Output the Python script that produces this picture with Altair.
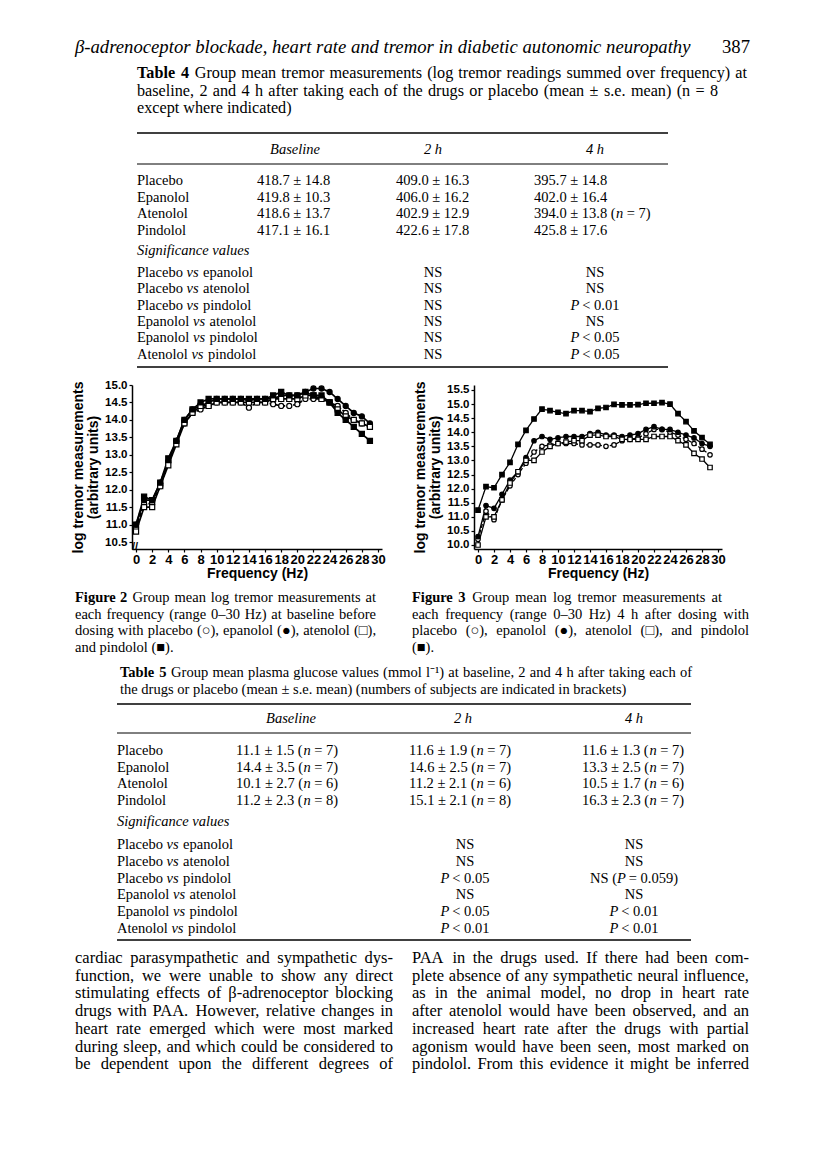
import altair as alt
import pandas as pd

# ---------------- chart data ----------------
freq = list(range(30))
drugs = ["Placebo", "Epanolol", "Atenolol", "Pindolol"]

fig2_placebo = [10.9, 11.6, 11.6, 12.1, 12.8, 13.4, 13.9, 14.2, 14.3, 14.4, 14.5, 14.5, 14.5, 14.5, 14.35,
                14.5, 14.5, 14.45, 14.4, 14.4, 14.45, 14.6, 14.6, 14.6, 14.5, 14.4, 14.2, 14.0, 13.9, 13.8]
fig2_epanolol = [11.0, 11.7, 11.7, 12.2, 12.8, 13.4, 14.0, 14.3, 14.4, 14.5, 14.6, 14.6, 14.6, 14.6, 14.55,
                 14.6, 14.6, 14.6, 14.7, 14.7, 14.7, 14.8, 14.9, 14.9, 14.8, 14.6, 14.4, 14.2, 14.1, 13.9]
fig2_atenolol = [10.8, 11.5, 11.5, 12.1, 12.7, 13.3, 13.9, 14.2, 14.4, 14.4, 14.5, 14.5, 14.5, 14.5, 14.5,
                 14.5, 14.5, 14.6, 14.6, 14.6, 14.6, 14.7, 14.7, 14.6, 14.5, 14.3, 14.1, 14.0, 13.9, 13.8]
fig2_pindolol = [11.0, 11.8, 11.7, 12.2, 12.9, 13.4, 14.0, 14.3, 14.5, 14.6, 14.6, 14.6, 14.6, 14.6, 14.6,
                 14.6, 14.6, 14.7, 14.8, 14.7, 14.7, 14.8, 14.7, 14.7, 14.5, 14.2, 14.0, 13.8, 13.6, 13.4]

fig3_placebo = [10.2, 11.2, 10.9, 11.6, 12.1, 12.5, 12.9, 13.3, 13.5, 13.55, 13.6, 13.6, 13.6, 13.55, 13.55,
                13.55, 13.5, 13.55, 13.7, 13.75, 13.8, 13.95, 14.1, 14.1, 14.0, 13.9, 13.75, 13.6, 13.4, 13.2]
fig3_epanolol = [10.3, 11.4, 11.3, 11.8, 12.3, 12.6, 13.1, 13.7, 13.85, 13.75, 13.8, 13.85, 13.85, 13.85, 13.95,
                 14.0, 13.9, 13.9, 13.85, 13.9, 13.95, 14.1, 14.2, 14.1, 14.1, 14.0, 13.9, 13.8, 13.6, 13.5]
fig3_atenolol = [10.0, 11.0, 11.0, 11.6, 12.2, 12.6, 13.0, 13.0, 13.3, 13.5, 13.6, 13.65, 13.7, 13.7, 13.9,
                 13.9, 13.85, 13.85, 13.75, 13.75, 13.75, 13.75, 13.85, 13.85, 13.85, 13.7, 13.55, 13.25, 13.05, 12.75]
fig3_pindolol = [11.24, 12.07, 12.03, 12.5, 12.93, 13.57, 14.07, 14.47, 14.82, 14.77, 14.71, 14.66, 14.77, 14.77, 14.73,
                 14.85, 14.88, 14.99, 14.97, 14.97, 14.98, 15.03, 15.03, 15.05, 15.0, 14.66, 14.38, 14.05, 13.81, 13.57]

fig2_ticks_y = [10.5, 11.0, 11.5, 12.0, 12.5, 13.0, 13.5, 14.0, 14.5, 15.0]
fig3_ticks_y = [10.0, 10.5, 11.0, 11.5, 12.0, 12.5, 13.0, 13.5, 14.0, 14.5, 15.0, 15.5]
ticks_x = list(range(0, 31, 2))
y_title = ["log tremor measurements", "(arbitrary units)"]
x_title = "Frequency (Hz)"

# ---------------- table texts ----------------
t4_rows = ["Placebo", "Epanolol", "Atenolol", "Pindolol"]
t4_base = ["418.7 ± 14.8", "419.8 ± 10.3", "418.6 ± 13.7", "417.1 ± 16.1"]
t4_2h = ["409.0 ± 16.3", "406.0 ± 16.2", "402.9 ± 12.9", "422.6 ± 17.8"]
t4_4h = ["395.7 ± 14.8", "402.0 ± 16.4", "394.0 ± 13.8 (n = 7)", "425.8 ± 17.6"]
t4_sig_2h = ["NS", "NS", "NS", "NS", "NS", "NS"]
t4_sig_4h = ["NS", "NS", "P < 0.01", "NS", "P < 0.05", "P < 0.05"]

t5_base = ["11.1 ± 1.5 (n = 7)", "14.4 ± 3.5 (n = 7)", "10.1 ± 2.7 (n = 6)", "11.2 ± 2.3 (n = 8)"]
t5_2h = ["11.6 ± 1.9 (n = 7)", "14.6 ± 2.5 (n = 7)", "11.2 ± 2.1 (n = 6)", "15.1 ± 2.1 (n = 8)"]
t5_4h = ["11.6 ± 1.3 (n = 7)", "13.3 ± 2.5 (n = 7)", "10.5 ± 1.7 (n = 6)", "16.3 ± 2.3 (n = 7)"]
t5_sig_2h = ["NS", "NS", "P < 0.05", "NS", "P < 0.05", "P < 0.01"]
t5_sig_4h = ["NS", "NS", "NS (P = 0.059)", "NS", "P < 0.01", "P < 0.01"]

sig_pairs = [("Placebo", "epanolol"), ("Placebo", "atenolol"), ("Placebo", "pindolol"),
             ("Epanolol", "atenolol"), ("Epanolol", "pindolol"), ("Atenolol", "pindolol")]

header_text = "β-adrenoceptor blockade, heart rate and tremor in diabetic autonomic neuropathy"
page_no = "387"
t4_caption = ["Group mean tremor measurements (log tremor readings summed over frequency) at",
              "baseline, 2 and 4 h after taking each of the drugs or placebo (mean ± s.e. mean) (n = 8",
              "except where indicated)"]
fig2_caption = ["Group mean log tremor measurements at",
                "each frequency (range 0–30 Hz) at baseline before",
                "dosing with placebo (○), epanolol (●), atenolol (□),",
                "and pindolol (■)."]
fig3_caption = ["Group mean log tremor measurements at",
                "each frequency (range 0–30 Hz) 4 h after dosing with",
                "placebo (○), epanolol (●), atenolol (□), and pindolol",
                "(■)."]
t5_caption = ["Group mean plasma glucose values (mmol l⁻¹) at baseline, 2 and 4 h after taking each of",
              "the drugs or placebo (mean ± s.e. mean) (numbers of subjects are indicated in brackets)"]
body_left = ["cardiac parasympathetic and sympathetic dys-",
             "function, we were unable to show any direct",
             "stimulating effects of β-adrenoceptor blocking",
             "drugs with PAA. However, relative changes in",
             "heart rate emerged which were most marked",
             "during sleep, and which could be considered to",
             "be dependent upon the different degrees of"]
body_right = ["PAA in the drugs used. If there had been com-",
              "plete absence of any sympathetic neural influence,",
              "as in the animal model, no drop in heart rate",
              "after atenolol would have been observed, and an",
              "increased heart rate after the drugs with partial",
              "agonism would have been seen, most marked on",
              "pindolol. From this evidence it might be inferred"]

# ---------------- layout helpers ----------------
W, H = 800, 1154
SERIF = "Liberation Serif"
SANS = "Liberation Sans"


def P(v):
    return v - 8


# approximate Times advance widths (1/1000 em), used only to place words
TW = {" ": 250, "!": 333, "(": 333, ")": 333, ",": 250, "-": 333, ".": 250, "/": 278, ":": 278, ";": 278,
      "<": 564, "=": 564, ">": 564, "±": 564, "–": 500, "β": 500, "⁻": 333, "¹": 300,
      "○": 600, "●": 600, "□": 600, "■": 600,
      "A": 722, "B": 667, "C": 667, "D": 722, "E": 611, "F": 556, "G": 722, "H": 722, "I": 333, "J": 389,
      "K": 722, "L": 611, "M": 889, "N": 722, "O": 722, "P": 556, "Q": 722, "R": 667, "S": 556, "T": 611,
      "U": 722, "V": 722, "W": 944, "X": 722, "Y": 722, "Z": 611,
      "a": 444, "b": 500, "c": 444, "d": 500, "e": 444, "f": 333, "g": 500, "h": 500, "i": 278, "j": 278,
      "k": 500, "l": 278, "m": 778, "n": 500, "o": 500, "p": 500, "q": 500, "r": 333, "s": 389, "t": 278,
      "u": 500, "v": 500, "w": 722, "x": 500, "y": 500, "z": 444}


def tw(s, size, weight="normal"):
    w = sum(TW.get(c, 500) for c in s) / 1000.0 * size
    return w * (1.06 if weight == "bold" else 1.0)


texts = []  # (x, y, text, size, font, style, weight, align)


def T(x, y, s, size=14.5, font=SERIF, style="normal", weight="normal", align="left"):
    texts.append((P(x), P(y), s, size, font, style, weight, align))


def J(x0, x1, y, segs, size):
    """place the words of a line so that it spans x0..x1 (justified setting)"""
    words = []
    for s, style, weight in segs:
        for wd in s.split(" "):
            if wd:
                words.append((wd, style, weight))
    widths = [tw(wd, size, wt) for wd, st, wt in words]
    gap = (x1 - x0 - sum(widths)) / max(len(words) - 1, 1)
    x = x0
    for (wd, st, wt), w in zip(words, widths):
        T(x, y, wd, size, style=st, weight=wt)
        x += w + gap


def italic_segs(s):
    """split so that the statistical symbols n and P are set in italic"""
    segs, buf = [], ""
    for i, c in enumerate(s):
        if c in "nP" and (i == 0 or s[i - 1] == "(") and i + 1 < len(s) and s[i + 1] == " ":
            if buf:
                segs.append((buf, "normal"))
                buf = ""
            segs.append((c, "italic"))
        else:
            buf += c
    if buf:
        segs.append((buf, "normal"))
    return segs


def rich(x, y, s, size, align="left"):
    segs = italic_segs(s)
    total = sum(tw(t, size) for t, st in segs)
    if align == "center":
        x -= total / 2
    for t, st in segs:
        lead = len(t) - len(t.lstrip(" "))
        if t.strip():
            T(x + tw(" " * lead, size), y, t.strip(), size, style=st)
        x += tw(t, size)


rules = []  # (x1, x2, y, width)


def R(x1, x2, y, w=1.0):
    rules.append((P(x1), P(x2), P(y), w))


N, I, B = "normal", "italic", "bold"
TS = 14.5  # table body size


def sig_label(x, y, a, b):
    T(x, y, a, TS)
    x2 = x + tw(a + " ", TS)
    T(x2, y, "vs", TS, style="italic")
    T(x2 + tw("vs ", TS), y, b, TS)


# header
T(75, 47, header_text, 18.7, style="italic")
T(750, 47, page_no, 18.7, align="right")

# table 4
CAP4 = 16.2
J(137, 747, 73, [("Table 4", N, B), (t4_caption[0], N, N)], CAP4)
J(137, 718, 90.5, [(t4_caption[1], N, N)], CAP4)
T(137, 108, t4_caption[2], CAP4)
R(137, 668, 133, 1.6)
T(295, 150, "Baseline", TS, style="italic", align="center")
T(433, 150, "2 h", TS, style="italic", align="center")
T(595, 150, "4 h", TS, style="italic", align="center")
R(137, 668, 164, 1.0)
for i, name in enumerate(t4_rows):
    y = 181 + 16.5 * i
    T(137, y, name, TS)
    rich(257, y, t4_base[i], TS)
    rich(396, y, t4_2h[i], TS)
    rich(534, y, t4_4h[i], TS)
T(137, 251, "Significance values", TS, style="italic")
for i, (a, b) in enumerate(sig_pairs):
    y = 273 + 16.3 * i
    sig_label(137, y, a, b)
    rich(433, y, t4_sig_2h[i], TS, align="center")
    rich(595, y, t4_sig_4h[i], TS, align="center")
R(137, 668, 367, 1.6)

# figure captions
FC = 14.5
for i, line in enumerate(fig2_caption):
    y = 598 + 16.5 * i
    segs = ([("Figure 2", N, B)] if i == 0 else []) + [(line, N, N)]
    if i < 3:
        J(75, 376, y, segs, FC)
    else:
        T(75, y, line, FC)
for i, line in enumerate(fig3_caption):
    y = 598 + 16.5 * i
    segs = ([("Figure 3", N, B)] if i == 0 else []) + [(line, N, N)]
    if i == 0:
        J(412, 722, y, segs, FC)
    elif i < 3:
        J(412, 749, y, segs, FC)
    else:
        T(412, y, line, FC)

# table 5
CAP5 = 14.5
J(120, 692, 673, [("Table 5", N, B), (t5_caption[0], N, N)], CAP5)
T(120, 690, t5_caption[1], CAP5)
R(117, 691, 704, 1.6)
T(291, 719, "Baseline", TS, style="italic", align="center")
T(463, 719, "2 h", TS, style="italic", align="center")
T(634, 719, "4 h", TS, style="italic", align="center")
R(117, 691, 733, 1.0)
for i, name in enumerate(t4_rows):
    y = 751 + 16.5 * i
    T(117, y, name, TS)
    rich(236, y, t5_base[i], TS)
    rich(409, y, t5_2h[i], TS)
    rich(582, y, t5_4h[i], TS)
T(117, 822, "Significance values", TS, style="italic")
for i, (a, b) in enumerate(sig_pairs):
    y = 845 + 16.8 * i
    sig_label(117, y, a, b)
    rich(465, y, t5_sig_2h[i], TS, align="center")
    rich(634, y, t5_sig_4h[i], TS, align="center")
R(117, 691, 940, 1.6)

# body text (justified columns)
BS = 16.5
for i, line in enumerate(body_left):
    J(75, 393, 958 + 17.7 * i, [(line, N, N)], BS)
for i, line in enumerate(body_right):
    J(412, 749, 958 + 17.7 * i, [(line, N, N)], BS)

# axis break mark on figure 2
T(135, 547, "//", 11, font=SANS, weight="bold", align="center")

# ---------------- build text / rule layers ----------------
text_df = pd.DataFrame(texts, columns=["px", "py", "label", "fs", "font", "style", "weight", "align"])
layers = []
for (font, style, weight, align), g in text_df.groupby(["font", "style", "weight", "align"]):
    layers.append(
        alt.Chart(g.reset_index(drop=True)).mark_text(
            font=font, fontStyle=style, fontWeight=weight, align=align, baseline="middle", color="black"
        ).encode(
            x=alt.X("px:Q", scale=None, axis=None),
            y=alt.Y("py:Q", scale=None, axis=None),
            text="label:N",
            size=alt.Size("fs:Q", scale=None, legend=None),
        )
    )

one = pd.DataFrame({"k": [0]})
for x1, x2, y, w in rules:
    layers.append(
        alt.Chart(one).mark_rule(color="black", strokeWidth=w).encode(
            x=alt.value(x1), x2=alt.value(x2), y=alt.value(y)
        )
    )


# ---------------- figures ----------------
def fig_df(series):
    rows = []
    for name, vals in zip(drugs, series):
        for f, v in zip(freq, vals):
            rows.append({"freq": f, "value": v, "drug": name})
    return pd.DataFrame(rows)


def fig_layers(df, x_left, x_right, y_dom, y_ticks, lw, msize):
    xs = alt.Scale(domain=[-0.5, 30.5], range=[P(x_left), P(x_right)], nice=False, zero=False)
    ys = alt.Scale(domain=y_dom, range=[P(549), P(385)], nice=False, zero=False)
    common = dict(labelFont=SANS, labelFontWeight="bold", labelColor="black",
                  titleFont=SANS, titleFontSize=14, titleFontWeight="bold", titleColor="black",
                  tickColor="black", tickWidth=1.2, tickSize=3, domainColor="black", domainWidth=1.5,
                  grid=False, labelOverlap=False, labelFlush=False)
    x_axis = alt.Axis(orient="bottom", offset=P(549) - H, values=ticks_x, format="d", title=x_title,
                      labelFontSize=13, labelPadding=1, titlePadding=0, **common)
    y_axis = alt.Axis(orient="left", offset=-P(x_left), values=y_ticks, format=".1f", title=y_title,
                      labelFontSize=11.5, titleLineHeight=15, titlePadding=4, labelPadding=2, **common)
    dash = alt.StrokeDash("drug:N", scale=alt.Scale(domain=drugs, range=[[4, 2], [1, 0], [1, 0], [1, 0]]),
                          legend=None)
    line = alt.Chart(df).mark_line(color="black", strokeWidth=lw).encode(
        x=alt.X("freq:Q", scale=xs, axis=x_axis),
        y=alt.Y("value:Q", scale=ys, axis=y_axis),
        strokeDash=dash,
        detail="drug:N",
    )
    pts = alt.Chart(df).mark_point(filled=True, stroke="black", strokeWidth=1.2, opacity=1, size=msize).encode(
        x=alt.X("freq:Q", scale=xs, axis=None),
        y=alt.Y("value:Q", scale=ys, axis=None),
        shape=alt.Shape("drug:N", scale=alt.Scale(domain=drugs, range=["circle", "circle", "square", "square"]),
                        legend=None),
        fill=alt.Fill("drug:N", scale=alt.Scale(domain=drugs, range=["white", "black", "white", "black"]),
                      legend=None),
    )
    return [line, pts]


df2 = fig_df([fig2_placebo, fig2_epanolol, fig2_atenolol, fig2_pindolol])
df3 = fig_df([fig3_placebo, fig3_epanolol, fig3_atenolol, fig3_pindolol])
layers += fig_layers(df2, 132, 382, [10.30, 15.0], fig2_ticks_y, 1.7, 26)
layers += fig_layers(df3, 474, 722, [9.858, 15.677], fig3_ticks_y, 1.3, 20)

chart = alt.layer(*layers).resolve_scale(
    x="independent", y="independent", strokeDash="independent", shape="independent", fill="independent"
).resolve_axis(x="independent", y="independent").properties(
    width=W, height=H, padding=0, background="white"
).configure_view(stroke=None)

chart.save("out.html", embed_options={"renderer": "svg", "actions": False})
